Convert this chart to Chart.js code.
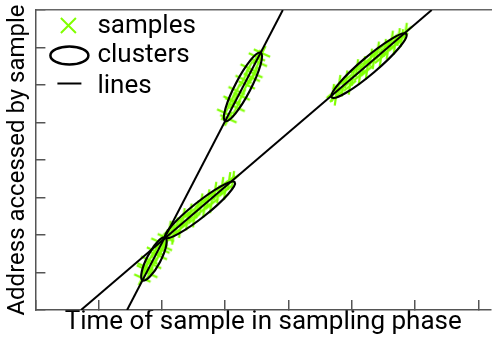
<!DOCTYPE html>
<html><head><meta charset="utf-8">
<script src="https://cdn.jsdelivr.net/npm/chart.js@4"></script>
<style>html,body{margin:0;padding:0;background:#fff;overflow:hidden}#wrap{width:501px;height:337px}</style>
</head><body><div id="wrap"><canvas id="c" width="501" height="337"></canvas></div>
<script>
// ---- data ----
const xTickValues = [0, 1, 2, 3, 4, 5, 6, 7];
const yTickValues = [0, 1, 2, 3, 4, 5, 6, 7, 8];
const xTitle = 'Time of sample in sampling phase';
const yTitle = 'Address accessed by sample';
const legendLabels = ['samples', 'clusters', 'lines'];

// fitted lines: x where each line crosses y = 0 and y = 8
const lineX0 = [1.449, 0.721];
const lineX8 = [3.910, 6.263];

// clusters (ellipses): end points along their line, and half thickness
const clusterLine = [0, 1, 0, 1];
const clusterStartX = [1.695, 2.051, 3.00, 4.683];
const clusterStartY = [0.79, 1.93, 5.04, 5.67];
const clusterEndX = [2.051, 3.15, 3.56, 5.861];
const clusterEndY = [1.93, 3.41, 6.86, 7.36];
const clusterHalfWidth = [0.18, 0.2, 0.21, 0.22];

// samples of each cluster
const samplesAX = [1.69, 1.80, 1.73, 1.86, 1.80, 1.95, 1.89, 2.03, 1.96, 2.06, 1.74, 1.99];
const samplesAY = [0.85, 0.97, 1.09, 1.21, 1.33, 1.45, 1.57, 1.69, 1.81, 1.93, 1.15, 1.62];
const samplesBX = [2.07, 2.12, 2.18, 2.23, 2.29, 2.34, 2.40, 2.45, 2.51, 2.56, 2.62, 2.67, 2.73, 2.78, 2.84, 2.89, 2.95, 3.00, 3.06, 3.12];
const samplesBY = [1.91, 2.14, 1.98, 2.23, 2.16, 2.48, 2.36, 2.60, 2.44, 2.68, 2.87, 2.70, 2.98, 2.82, 3.18, 3.08, 3.31, 3.17, 3.44, 3.47];
const samplesCX = [3.05, 3.00, 3.18, 3.13, 3.26, 3.18, 3.34, 3.29, 3.46, 3.37, 3.53, 3.50, 3.58, 3.10, 3.42];
const samplesCY = [5.10, 5.25, 5.40, 5.55, 5.70, 5.85, 6.00, 6.15, 6.30, 6.45, 6.60, 6.75, 6.85, 5.60, 6.20];
const samplesDX = [4.70, 4.75, 4.80, 4.86, 4.91, 4.97, 5.02, 5.08, 5.13, 5.19, 5.24, 5.30, 5.35, 5.41, 5.46, 5.52, 5.57, 5.63, 5.68, 5.74, 5.79, 5.85];
const samplesDY = [5.79, 5.69, 6.03, 5.93, 6.15, 5.98, 6.22, 6.45, 6.26, 6.53, 6.38, 6.73, 6.66, 6.92, 6.72, 6.99, 6.92, 7.21, 7.05, 7.28, 7.25, 7.42];

// ---- styling ----
const GREEN = '#80FF00';
const AXIS = '#555';
const FONT = 'Roboto';
Chart.defaults.font.family = FONT;

const toPts = (xs, ys) => xs.map((x, i) => ({x, y: ys[i]}));
const sampleSets = [
  {xs: samplesAX, ys: samplesAY, line: clusterLine[0]},
  {xs: samplesBX, ys: samplesBY, line: clusterLine[1]},
  {xs: samplesCX, ys: samplesCY, line: clusterLine[2]},
  {xs: samplesDX, ys: samplesDY, line: clusterLine[3]}
];

const markerCache = {};
function sampleMarker(chart, lineIdx) {
  const xs = chart.scales.x, ys = chart.scales.y;
  let a1 = -Math.PI / 4;
  if (xs && ys && xs.width > 0) {
    const dx = xs.getPixelForValue(lineX8[lineIdx]) - xs.getPixelForValue(lineX0[lineIdx]);
    const dy = ys.getPixelForValue(8) - ys.getPixelForValue(0);
    a1 = Math.atan2(dy, dx);
  }
  const a2 = (lineIdx === 0 ? 25 : -82) * Math.PI / 180;
  const key = lineIdx + ':' + a1.toFixed(3);
  if (markerCache[key]) return markerCache[key];
  const c = document.createElement('canvas');
  c.width = 30; c.height = 30;
  const g = c.getContext('2d');
  g.strokeStyle = GREEN; g.lineCap = 'butt';
  [[a1, 8, 2.2], [a2, 9, 2.2]].forEach(([a, L, w]) => {
    g.lineWidth = w;
    g.beginPath();
    g.moveTo(15 - L * Math.cos(a), 15 - L * Math.sin(a));
    g.lineTo(15 + L * Math.cos(a), 15 + L * Math.sin(a));
    g.stroke();
  });
  markerCache[key] = c;
  return c;
}

const datasets = [];
lineX0.forEach((x0, i) => {
  datasets.push({
    label: 'line ' + (i + 1),
    data: [{x: x0, y: 0}, {x: lineX8[i], y: 8}],
    showLine: true, borderColor: '#000', borderWidth: 2,
    pointRadius: 0, pointHoverRadius: 0
  });
});
sampleSets.forEach((s, i) => {
  datasets.push({
    label: 'samples ' + (i + 1),
    data: toPts(s.xs, s.ys),
    showLine: false,
    pointStyle: (ctx) => sampleMarker(ctx.chart, s.line),
    pointRadius: 9, pointHoverRadius: 9
  });
});

const ellipsePlugin = {
  id: 'clusters',
  afterDatasetsDraw(chart) {
    const ctx = chart.ctx, xs = chart.scales.x, ys = chart.scales.y, ca = chart.chartArea;
    ctx.save();
    ctx.beginPath(); ctx.rect(ca.left, ca.top, ca.right - ca.left, ca.bottom - ca.top); ctx.clip();
    ctx.strokeStyle = '#000'; ctx.lineWidth = 2.2;
    clusterStartX.forEach((sx, i) => {
      const x1 = xs.getPixelForValue(sx), y1 = ys.getPixelForValue(clusterStartY[i]);
      const x2 = xs.getPixelForValue(clusterEndX[i]), y2 = ys.getPixelForValue(clusterEndY[i]);
      const cx = (x1 + x2) / 2, cy = (y1 + y2) / 2;
      const a = Math.hypot(x2 - x1, y2 - y1) / 2;
      const b = Math.abs(ys.getPixelForValue(clusterHalfWidth[i]) - ys.getPixelForValue(0));
      ctx.beginPath();
      ctx.ellipse(cx, cy, a, b, Math.atan2(y2 - y1, x2 - x1), 0, Math.PI * 2);
      ctx.stroke();
    });
    ctx.restore();
  }
};

const legendPlugin = {
  id: 'insideLegend',
  afterDraw(chart) {
    const ctx = chart.ctx, ca = chart.chartArea;
    const L = ca.left, T = ca.top;
    ctx.save();
    // samples marker
    ctx.strokeStyle = GREEN; ctx.lineWidth = 2;
    const mx = L + 33, my = T + 15.5, h = 7.5;
    ctx.beginPath();
    ctx.moveTo(mx - h, my - h); ctx.lineTo(mx + h, my + h);
    ctx.moveTo(mx - h, my + h); ctx.lineTo(mx + h, my - h);
    ctx.stroke();
    // cluster marker
    ctx.strokeStyle = '#000'; ctx.lineWidth = 2.5;
    ctx.beginPath(); ctx.ellipse(L + 34, T + 45.5, 19, 9, 0, 0, Math.PI * 2); ctx.stroke();
    // line marker
    ctx.lineWidth = 2;
    ctx.beginPath(); ctx.moveTo(L + 22, T + 73.5); ctx.lineTo(L + 46, T + 73.5); ctx.stroke();
    // labels
    ctx.fillStyle = '#000';
    ctx.font = '26px ' + FONT;
    ctx.textAlign = 'left'; ctx.textBaseline = 'alphabetic';
    ctx.fillText(legendLabels[0], L + 62, T + 22.5);
    ctx.fillText(legendLabels[1], L + 62, T + 51.5);
    ctx.fillText(legendLabels[2], L + 62, T + 82.5);
    ctx.restore();
  }
};

new Chart(document.getElementById('c'), {
  type: 'scatter',
  data: {datasets},
  options: {
    responsive: false, animation: false, events: [],
    devicePixelRatio: 1,
    layout: {padding: {top: 6.8, left: 0, right: 0, bottom: 0}},
    plugins: {legend: {display: false}, tooltip: {enabled: false}},
    scales: {
      x: {
        type: 'linear', position: 'bottom', min: 0, max: 7.2,
        afterBuildTicks: (s) => { s.ticks = xTickValues.map(v => ({value: v})); },
        ticks: {display: false, stepSize: 1, includeBounds: false},
        grid: {display: true, drawOnChartArea: false, drawTicks: true, tickLength: -10, color: AXIS, lineWidth: 1.5},
        border: {display: true, color: AXIS, width: 1.5},
        title: {display: true, text: xTitle, color: '#000', font: {family: FONT, size: 26}, padding: {top: 7.3, bottom: -1.5}}
      },
      x2: {
        type: 'linear', axis: 'x', position: 'top', min: 0, max: 7.2,
        ticks: {display: false},
        grid: {display: false, drawTicks: false},
        border: {display: true, color: '#666', width: 1.5}
      },
      y: {
        type: 'linear', position: 'left', min: 0, max: 8,
        afterBuildTicks: (s) => { s.ticks = yTickValues.map(v => ({value: v})); },
        ticks: {display: false, stepSize: 1, includeBounds: false},
        grid: {display: true, drawOnChartArea: false, drawTicks: true, tickLength: -10, color: AXIS, lineWidth: 1.5},
        border: {display: true, color: AXIS, width: 1.5},
        title: {display: true, text: yTitle, color: '#000', font: {family: FONT, size: 24}, padding: {top: 3.1, bottom: 13.5}}
      }
    }
  },
  plugins: [ellipsePlugin, legendPlugin]
});
</script></body></html>
